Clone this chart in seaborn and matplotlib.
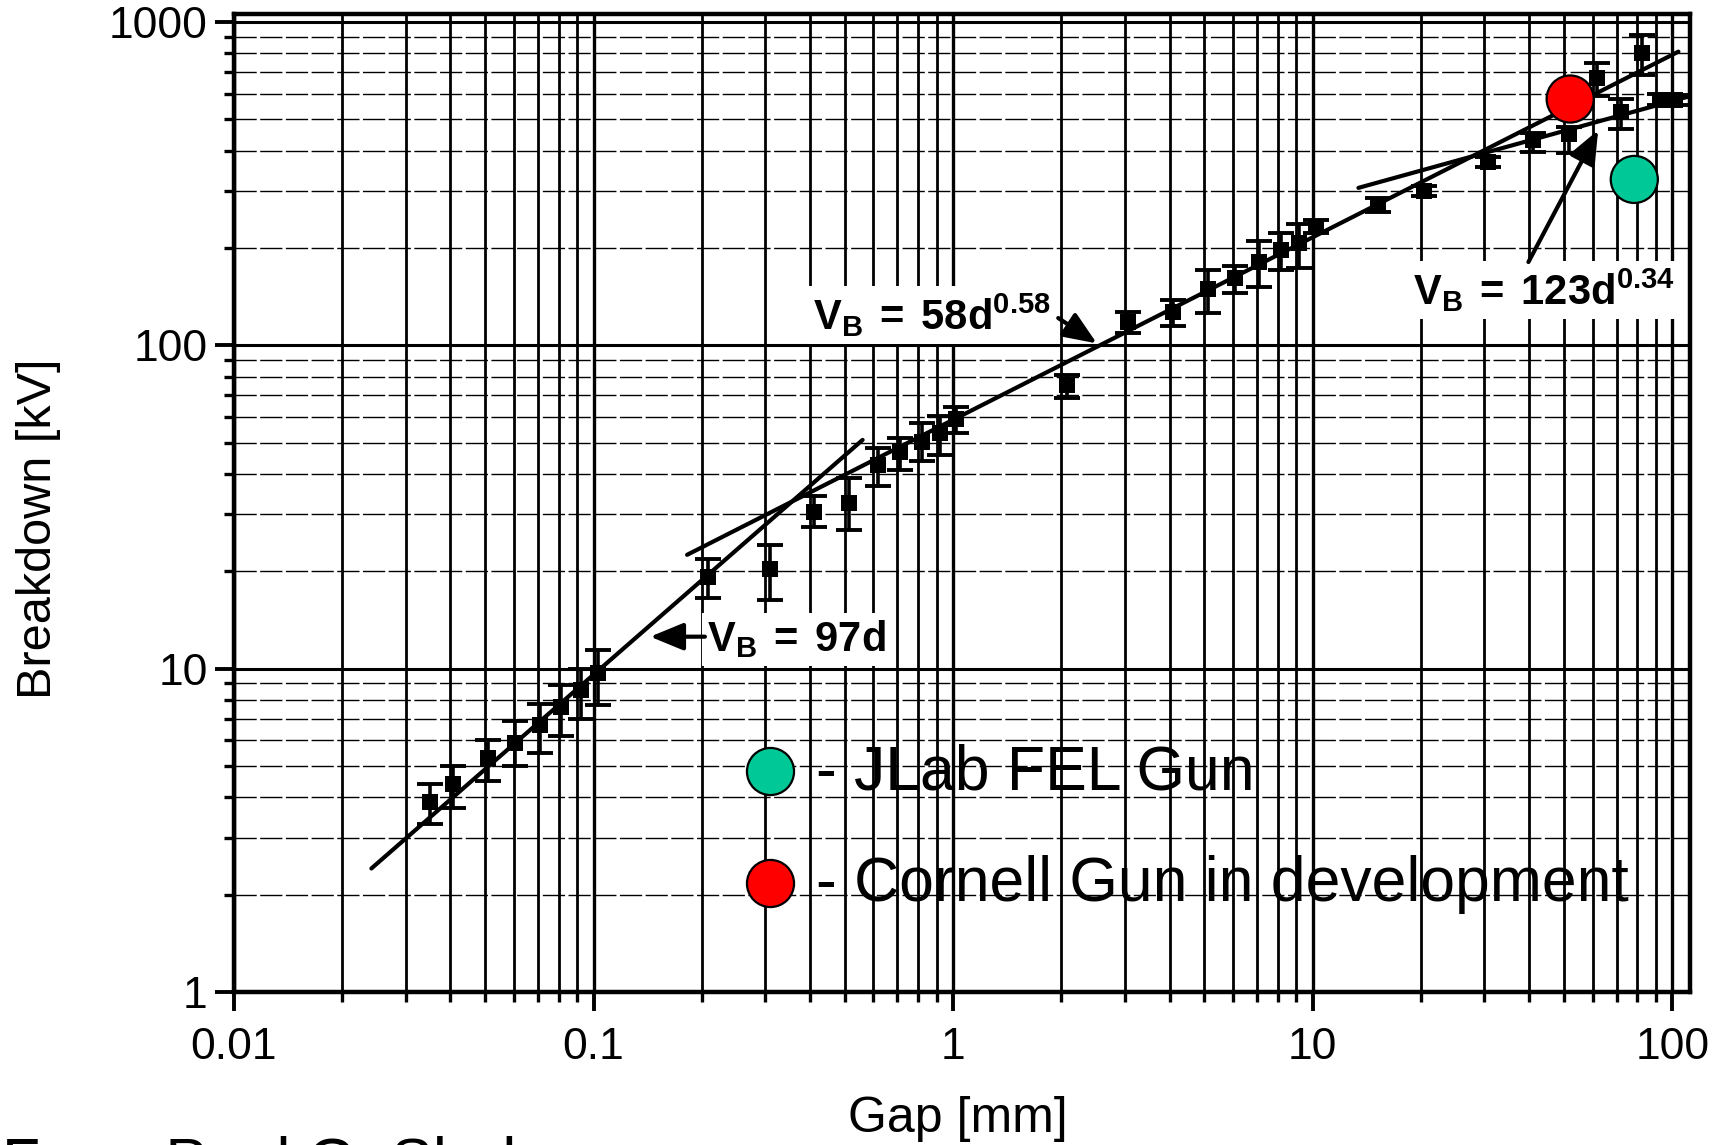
import numpy as np
import matplotlib
matplotlib.use("Agg")
import matplotlib.pyplot as plt
import seaborn as sns
from matplotlib.ticker import LogLocator, NullFormatter, FixedLocator, FixedFormatter

# ---------------- data ----------------
gap_mm = [0.0351, 0.0406, 0.0507, 0.0605, 0.071, 0.0814, 0.0921, 0.1032,
          0.2075, 0.31, 0.411, 0.514, 0.617, 0.713, 0.818, 0.92, 1.02,
          2.07, 3.07, 4.08, 5.1, 6.09, 7.11, 8.17, 9.18, 10.2,
          15.2, 20.4, 30.8, 41, 51.5, 61.7, 72, 82.4, 92.7, 102]
breakdown_kv = [3.88, 4.39, 5.28, 5.87, 6.7, 7.6, 8.6, 9.67,
                19.2, 20.3, 30.6, 32.6, 42.6, 46.9, 50.3, 53.4, 59,
                75.4, 118, 127, 149, 161, 181, 197, 207, 233,
                272, 301, 370, 431, 450, 670, 528, 800, 576, 574]
err_low_kv = [3.3, 3.7, 4.5, 5.0, 5.5, 6.2, 7.0, 7.7,
              16.6, 16.3, 27.4, 26.9, 36.7, 41.2, 44, 45.9, 53.7,
              68.6, 109, 115, 126, 145, 151, 171, 173, 222,
              258, 290, 357, 397, 393, 590, 466, 686, 555, 555]
err_high_kv = [4.4, 5.0, 6.0, 6.9, 7.8, 8.9, 10.0, 11.4,
               21.9, 24.1, 34.2, 38.8, 48, 51.6, 57.5, 60.4, 64.5,
               81, 127, 138, 171, 176, 211, 222, 238, 244,
               286, 312, 383, 453, 475, 748, 577, 911, 597, 595]

# fitted lines (end points)
fit97_gap = [0.0241, 0.56]
fit97_kv = [2.41, 51]
fit58_gap = [0.182, 104]
fit58_kv = [22.5, 810]
fit123_gap = [13.4, 112]
fit123_kv = [307, 590]

# electron guns
gun_names = ["JLab FEL Gun", "Cornell Gun in development"]
gun_gap_mm = [78.4, 52]
gun_kv = [326, 578]
gun_colors = ["#00C896", "#FF0000"]

x_ticks = [0.01, 0.1, 1, 10, 100]
x_tick_labels = ["0.01", "0.1", "1", "10", "100"]
y_ticks = [1, 10, 100, 1000]
y_tick_labels = ["1", "10", "100", "1000"]

# ---------------- style ----------------
sns.set_theme(style="ticks")
plt.rcParams["font.family"] = ["Liberation Sans", "DejaVu Sans"]
plt.rcParams["text.color"] = "black"
plt.rcParams["mathtext.fontset"] = "custom"
plt.rcParams["mathtext.rm"] = "Liberation Sans"
plt.rcParams["mathtext.it"] = "Liberation Sans:italic"
plt.rcParams["mathtext.bf"] = "Liberation Sans:bold"

W, H = 1724, 1145
fig = plt.figure(figsize=(W / 100, H / 100), dpi=100)
fig.patch.set_facecolor("white")
ax_l, ax_r, ax_t, ax_b = 234, 1690, 14, 992
ax = fig.add_axes([ax_l / W, 1 - ax_b / H, (ax_r - ax_l) / W, (ax_b - ax_t) / H])
ax.set_facecolor("white")
ax.set_xscale("log")
ax.set_yscale("log")
ax.set_xlim(0.01, 112)
ax.set_ylim(1, 1059)
ax.set_axisbelow(True)

# grid
ax.xaxis.set_minor_locator(LogLocator(base=10, subs=np.arange(2, 10), numticks=30))
ax.yaxis.set_minor_locator(LogLocator(base=10, subs=np.arange(2, 10), numticks=30))
ax.xaxis.set_minor_formatter(NullFormatter())
ax.yaxis.set_minor_formatter(NullFormatter())
ax.xaxis.grid(True, which="major", color="black", lw=2.4)
ax.xaxis.grid(True, which="minor", color="black", lw=2.0)
ax.yaxis.grid(True, which="major", color="black", lw=2.2)
ax.yaxis.grid(True, which="minor", color="black", lw=1.0, ls=(0, (16, 2.5)))

# error bars + squares
yerr = [np.array(breakdown_kv) - np.array(err_low_kv),
        np.array(err_high_kv) - np.array(breakdown_kv)]
ax.errorbar(gap_mm, breakdown_kv, yerr=yerr, fmt="none", ecolor="black",
            elinewidth=2.6, capsize=9.5, capthick=2.8, zorder=3)
sns.scatterplot(x=gap_mm, y=breakdown_kv, marker="s", s=135, color="black",
                edgecolor="black", linewidth=0, zorder=4, ax=ax)

# fit lines
for gx, gy in [(fit97_gap, fit97_kv), (fit58_gap, fit58_kv), (fit123_gap, fit123_kv)]:
    sns.lineplot(x=gx, y=gy, color="black", lw=3.0, estimator=None, sort=False,
                 ax=ax, zorder=3)

# annotations
box = dict(facecolor="white", edgecolor="none", pad=4)
ax.text(0.207, 11.3, r"$\mathbf{V_B\;=\;97d}$", fontsize=30, ha="left",
        va="baseline", bbox=box, zorder=5)
ax.text(0.408, 111.5, r"$\mathbf{V_B\;=\;58d^{0.58}}$", fontsize=30, ha="left",
        va="baseline", bbox=box, zorder=5)
ax.text(19.0, 133.6, r"$\mathbf{V_B\;=\;123d^{0.34}}$", fontsize=30, ha="left",
        va="baseline", bbox=box, zorder=5)
arrow = dict(arrowstyle="-|>,head_length=1.7,head_width=0.7", color="black",
             lw=3.0, shrinkA=0, shrinkB=0)
ax.annotate("", xy=(0.1437, 12.56), xytext=(0.204, 12.56), arrowprops=arrow, zorder=6)
ax.annotate("", xy=(2.51, 101.4), xytext=(1.96, 121.5), arrowprops=arrow, zorder=6)
ax.annotate("", xy=(62.2, 463), xytext=(39.8, 181), arrowprops=arrow, zorder=6)

# gun markers
sns.scatterplot(x=gun_gap_mm, y=gun_kv, hue=gun_names, palette=gun_colors,
                s=1150, edgecolor="black", linewidth=1.6, legend=False,
                zorder=7, ax=ax)

# hand-made legend
leg_x = (770 - ax_l) / (ax_r - ax_l)
leg_y = [1 - (771 - ax_t) / (ax_b - ax_t), 1 - (883 - ax_t) / (ax_b - ax_t)]
txt_x = (816 - ax_l) / (ax_r - ax_l)
for name, col, yy in zip(gun_names, gun_colors, leg_y):
    ax.scatter([leg_x], [yy], s=1150, color=col, edgecolor="black",
               linewidth=1.6, transform=ax.transAxes, zorder=7, clip_on=False)
    ax.text(txt_x, yy - 18 / (ax_b - ax_t), "- " + name, fontsize=45,
            color="black", ha="left", va="baseline", transform=ax.transAxes,
            zorder=7)

# axes, ticks
for s in ax.spines.values():
    s.set_color("black")
    s.set_linewidth(3.2)
ax.xaxis.set_major_locator(FixedLocator(x_ticks))
ax.xaxis.set_major_formatter(FixedFormatter(x_tick_labels))
ax.yaxis.set_major_locator(FixedLocator(y_ticks))
ax.yaxis.set_major_formatter(FixedFormatter(y_tick_labels))
ax.tick_params(which="major", direction="out", length=14, width=2.8,
               color="black", labelsize=32, labelcolor="black")
ax.tick_params(axis="x", which="major", pad=11)
ax.tick_params(axis="y", which="major", pad=5)
ax.tick_params(which="minor", direction="out", length=7, width=2.4, color="black")

ax.set_xlabel("Gap [mm]", fontsize=36, color="black", va="center")
ax.set_ylabel("Breakdown [kV]", fontsize=35, color="black", va="center")
ax.xaxis.set_label_coords(0.497, -0.130)
ax.yaxis.set_label_coords(-0.134, 0.474)

fig.text(0.001, -0.032, "From Paul G. Slade", fontsize=45, ha="left",
         va="baseline", color="black")

fig.savefig("out.png", dpi=100)
